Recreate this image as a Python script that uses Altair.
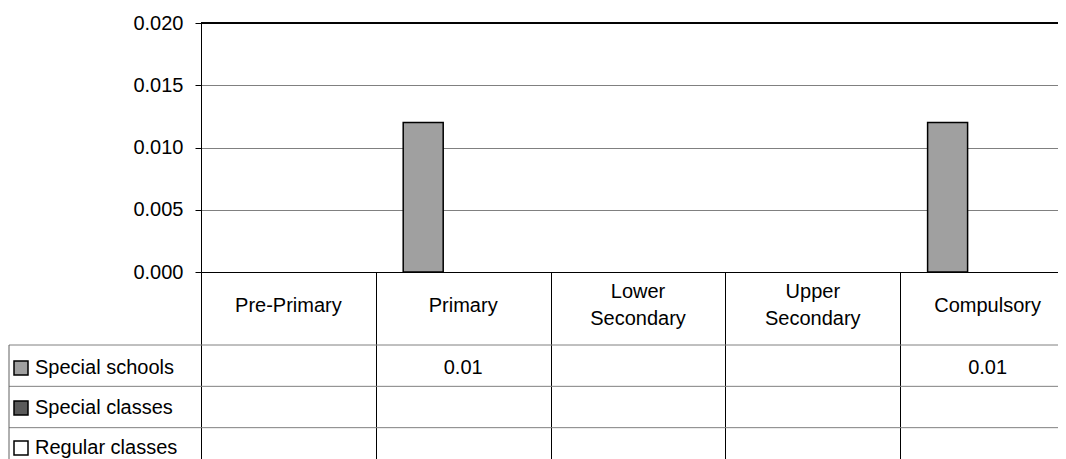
import altair as alt
import pandas as pd

FONT = "Liberation Sans"

categories = ["Pre-Primary", "Primary", "Lower Secondary", "Upper Secondary", "Compulsory"]
series = ["Special schools", "Special classes", "Regular classes"]
special_schools = [None, 0.012, None, None, 0.012]
special_classes = [None, None, None, None, None]
regular_classes = [None, None, None, None, None]
series_colors = ["#A0A0A0", "#5A5A5A", "#FFFFFF"]
y_ticks = [0.0, 0.005, 0.010, 0.015, 0.020]
header_lines = ["top", "mid", "bot"]

rows = []
for s, vals in zip(series, [special_schools, special_classes, regular_classes]):
    for c, v in zip(categories, vals):
        rows.append({"category": c, "series": s, "value": v})
df = pd.DataFrame(rows)
series_df = pd.DataFrame({"series": series})

hdr_rows = []
for c in categories:
    parts = c.split(" ")
    if len(parts) == 2:
        hdr_rows.append({"category": c, "line": "top", "text": parts[0]})
        hdr_rows.append({"category": c, "line": "bot", "text": parts[1]})
    else:
        hdr_rows.append({"category": c, "line": "mid", "text": c})
hdr_df = pd.DataFrame(hdr_rows)

x_scale = alt.Scale(domain=categories, range=[0, 874], paddingInner=0, paddingOuter=0)
x_axis = alt.Axis(
    orient="bottom", title=None, labels=False,
    tickBand="extent", tickSize=200, tickColor="black", tickWidth=1,
    domainColor="black", domainWidth=1,
)
x_enc = alt.X("category:N", scale=x_scale, axis=x_axis, sort=categories)

y_axis = alt.Axis(
    values=y_ticks, format=".3f", title=None, labelFontSize=20, labelColor="black",
    labelFont=FONT, labelPadding=12, tickSize=6, tickColor="black",
    domainColor="black", grid=True, gridColor="#808080", gridWidth=1,
)
y_scale = alt.Scale(domain=[0, 0.02], nice=False, zero=True)

table_y_scale = alt.Scale(domain=series, range=[322, 446], paddingInner=0, paddingOuter=0)
header_y_scale = alt.Scale(type="point", domain=header_lines, range=[269, 296], padding=0)

bars = alt.Chart(df).mark_bar(stroke="black", strokeWidth=1.5).encode(
    x=x_enc,
    xOffset=alt.XOffset(
        "series:N", sort=series,
        scale=alt.Scale(domain=series, paddingInner=0, paddingOuter=0.685),
    ),
    y=alt.Y("value:Q", scale=y_scale, axis=y_axis),
    color=alt.Color(
        "series:N", sort=series,
        scale=alt.Scale(domain=series, range=series_colors),
        legend=alt.Legend(
            title=None, orient="none", legendX=-190, legendY=335, direction="vertical",
            symbolType="square", symbolSize=196, symbolStrokeColor="black",
            symbolStrokeWidth=1.5, labelFontSize=20, labelColor="black", labelFont=FONT,
            labelOffset=4, rowPadding=20, padding=0,
        ),
    ),
)

top_border = alt.Chart(series_df).mark_rule(color="black", strokeWidth=1.5).encode(
    y=alt.datum(0.02)
)

plot = alt.layer(bars, top_border)

header_text = alt.Chart(hdr_df).mark_text(
    fontSize=20, color="black", font=FONT, baseline="middle"
).encode(
    x=x_enc,
    y=alt.Y("line:N", scale=header_y_scale, axis=None, sort=header_lines),
    text="text:N",
)

table_text = alt.Chart(df).transform_filter("isValid(datum.value)").mark_text(
    fontSize=20, color="black", font=FONT, dy=2
).encode(
    x=x_enc,
    y=alt.Y("series:N", scale=table_y_scale, axis=None, sort=series),
    text=alt.Text("value:Q", format=".2f"),
)

table_lines = alt.Chart(series_df).mark_rule(color="#808080", strokeWidth=1).encode(
    y=alt.Y("series:N", scale=table_y_scale, axis=None, sort=series, bandPosition=0),
    x=alt.value(-192),
    x2=alt.value(874),
)

left_border = alt.Chart(pd.DataFrame({"k": [0]})).mark_rule(color="#606060", strokeWidth=1).encode(
    x=alt.value(-192), y=alt.value(322), y2=alt.value(480)
)

chart = alt.layer(plot, table_lines, left_border, header_text, table_text).resolve_scale(
    y="independent"
).properties(
    width=857, height=249,
    autosize=alt.AutoSizeParams(type="none"),
    padding={"left": 193, "top": 15, "right": 0, "bottom": 187},
).configure_view(strokeWidth=0).configure(font=FONT)

chart.save("out.html", embed_options={"renderer": "svg", "actions": False})
